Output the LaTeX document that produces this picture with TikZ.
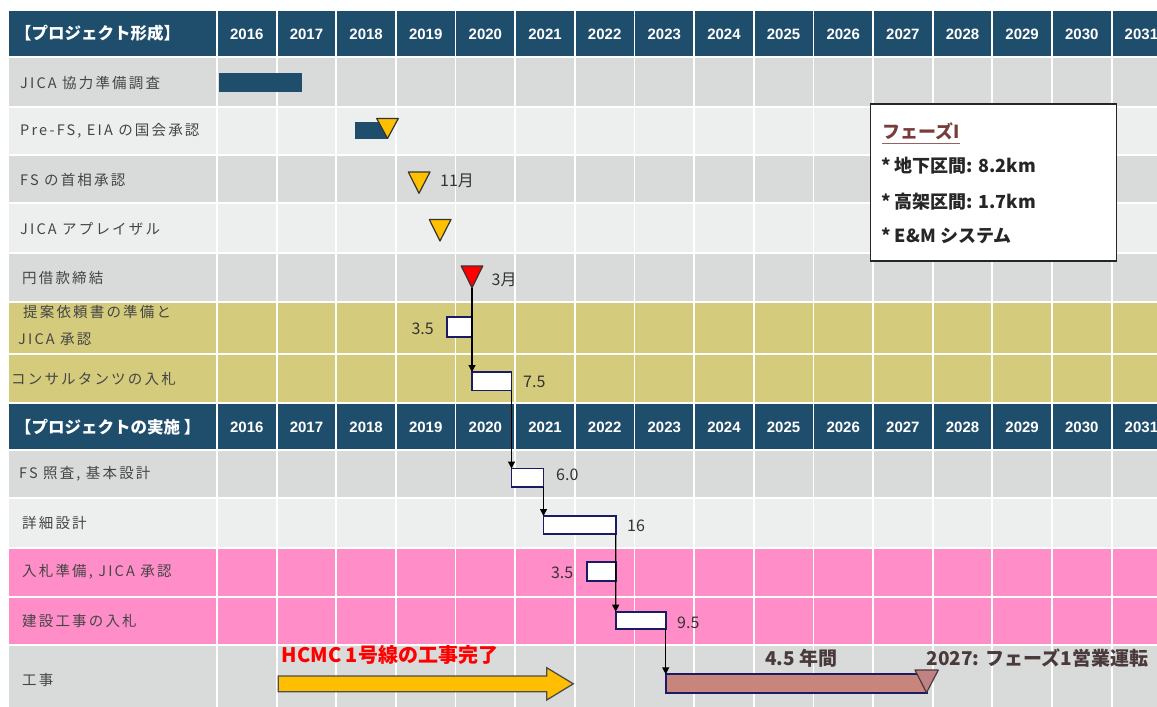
\documentclass[tikz,border=0pt]{standalone}
\usepackage{fontspec}
\setmainfont{Noto Sans CJK JP}
\newfontfamily\jpl{Noto Sans CJK JP}[LetterSpace=15]
\newfontfamily\arl{Liberation Sans}
\usetikzlibrary{arrows.meta}
\definecolor{hdr}{HTML}{1F4D6C}
\definecolor{rowg}{HTML}{D9DBDB}
\definecolor{rowl}{HTML}{EDEFEF}
\definecolor{olive}{HTML}{D5CB7D}
\definecolor{pinkr}{HTML}{FF8EC8}
\definecolor{navy}{HTML}{1A1A66}
\definecolor{tri}{HTML}{FFC000}
\definecolor{brownbar}{HTML}{C8857B}
\definecolor{endtri}{HTML}{C08282}
\definecolor{labtxt}{HTML}{454545}
\definecolor{darktxt}{HTML}{4A3A3A}
\definecolor{phase}{HTML}{7A3B3B}
\definecolor{arrowfill}{HTML}{FFBE00}
\begin{document}
\begin{tikzpicture}[x=1pt,y=-1pt,
  grid/.style={white,line width=1.8pt},
  hline/.style={white,line width=2.5pt},
  yr/.style={text=white,font=\arl\bfseries\fontsize{15}{17}\selectfont,inner sep=0pt},
  hdrtxt/.style={text=white,font=\bfseries\fontsize{16.5}{18}\selectfont,inner sep=0pt,anchor=west},
  lab/.style={text=labtxt,font=\jpl\fontsize{14.5}{16}\selectfont,inner sep=0pt,anchor=west},
  num/.style={text=black!80,font=\fontsize{16}{18}\selectfont,inner sep=0pt},
  darkbar/.style={fill=hdr,draw=none,inner sep=0pt,outer sep=0pt,anchor=north west},
  wbox/.style={fill=white,draw=navy,line width=1.8pt,inner sep=0pt,outer sep=0pt,anchor=north west},
  conn/.style={black,line width=1.2pt,-{Triangle[length=7pt,width=7pt]}},
  ytri/.style={fill=tri,draw=black!80,line width=1.2pt,line join=round},
  infotxt/.style={text=black!85,font=\bfseries\fontsize{18}{20}\selectfont,inner sep=0pt,anchor=west},
  bigtxt/.style={font=\bfseries\fontsize{19}{21}\selectfont,inner sep=0pt,anchor=west}
]
\useasboundingbox (0,0) rectangle (1157,707);
\fill[white] (0,0) rectangle (1157,707);
% row backgrounds
\foreach \t/\b/\c in {11/57/hdr,57/107/rowg,107/155/rowl,155/203/rowg,203/253/rowl,253/302/rowg,302/354/olive,354/403/olive,403/450/hdr,450/498/rowg,498/548/rowl,548/597/pinkr,597/645/pinkr,645/707/rowg}
  \fill[\c] (9,\t) rectangle (1157,\b);
% grid
\foreach \k in {0,...,15}
  \draw[grid] ({217+59.64*\k},11) -- ({217+59.64*\k},707);
\foreach \y in {57,107,155,203,253,302,354,403,450,498,548,597,645}
  \draw[hline] (9,\y) -- (1157,\y);
% headers
\node[hdrtxt] (h1) at (15,33.5) {【プロジェクト形成】};
\node[hdrtxt] (h2) at (15,427) {【プロジェクトの実施 】};
\foreach \k in {0,...,15}{
  \pgfmathsetmacro\xc{217+59.64*\k+29.82}
  \pgfmathtruncatemacro\yr{2016+\k}
  \node[yr] (ya\k) at (\xc,34) {\yr};
  \node[yr] (yb\k) at (\xc,427) {\yr};
}
% row labels
\node[lab] (l1) at (20,83) {JICA 協力準備調査};
\node[lab] (l2) at (20,131) {Pre-FS, EIA の国会承認};
\node[lab] (l3) at (20,180) {FS の首相承認};
\node[lab] (l4) at (20,229) {JICA アプレイザル};
\node[lab] (l5) at (22,278) {円借款締結};
\node[lab] (l6a) at (23,312) {提案依頼書の準備と};
\node[lab] (l6b) at (18,339) {JICA 承認};
\node[lab] (l7) at (11,379) {コンサルタンツの入札};
\node[lab] (l8) at (19,474) {FS 照査, 基本設計};
\node[lab] (l9) at (22,523) {詳細設計};
\node[lab] (l10) at (22,572) {入札準備, JICA 承認};
\node[lab] (l11) at (22,621) {建設工事の入札};
\node[lab] (l12) at (22,680) {工事};
% bars
\node[darkbar,minimum width=82.5pt,minimum height=18.5pt] (b1) at (219,73) {};
\node[darkbar,minimum width=32pt,minimum height=17.5pt] (b2) at (354.7,121.7) {};
% milestones
\filldraw[ytri] (376.7,118.5) -- (398.3,118.5) -- (387.5,138.5) -- cycle;
\filldraw[ytri] (408.3,172) -- (430,172) -- (419,193.3) -- cycle;
\filldraw[ytri] (429.3,219.5) -- (451,219.5) -- (440,241) -- cycle;
\filldraw[fill=red,draw=black!80,line width=1.2pt,line join=round] (461.2,266) -- (482.8,266) -- (472,287.7) -- cycle;
\coordinate (t5apex) at (472,287.7);
\node[num,anchor=west] (n3) at (440,181) {11月};
\node[num,anchor=west] (n5) at (491.5,279.5) {3月};
% boxes
\node[wbox,minimum width=25pt,minimum height=20pt] (bx6) at (446.7,316.7) {};
\node[wbox,minimum width=39.5pt,minimum height=18.5pt] (bx7) at (472,372) {};
\node[wbox,minimum width=32pt,minimum height=18.2pt] (bx8) at (511.5,468.5) {};
\node[wbox,minimum width=72.2pt,minimum height=18.3pt] (bx9) at (543.5,516) {};
\node[wbox,minimum width=29pt,minimum height=19pt] (bx10) at (586.7,561.7) {};
\node[wbox,minimum width=50pt,minimum height=17.6pt] (bx11) at (615.7,611.7) {};
\node[wbox,fill=brownbar,minimum width=261pt,minimum height=18.4pt] (bar12) at (665.7,674.3) {};
\filldraw[fill=endtri,draw=darktxt,line width=1.2pt,line join=round] (915,670) -- (938.3,670) -- (926.5,692.7) -- cycle;
\node[num,anchor=east] (n6) at (434,328.5) {3.5};
\node[num,anchor=west] (n7) at (523,382) {7.5};
\node[num,anchor=west] (n8) at (556,475) {6.0};
\node[num,anchor=west] (n9) at (627,526) {16};
\node[num,anchor=east] (n10) at (573.5,572.5) {3.5};
\node[num,anchor=west] (n11) at (677,622.5) {9.5};
% connectors
\draw[conn] (t5apex) -- (bx7.north west);
\draw[conn] (bx7.south east) -- (bx8.north west);
\draw[conn] (bx8.south east) -- (bx9.north west);
\draw[conn] (bx9.south east) -- (bx11.north west);
\draw[conn] (bx11.south east) -- (bar12.north west);
% yellow arrow
\filldraw[fill=arrowfill,draw=black!70,line width=1.3pt,line join=miter]
  (278.3,676) -- (546.7,676) -- (546.7,667.7) -- (573.3,683.8) -- (546.7,700) -- (546.7,691.7) -- (278.3,691.7) -- cycle;
\node[bigtxt,text=red,font=\bfseries\fontsize{20}{22}\selectfont] (hcmc) at (281.5,655) {HCMC 1号線の工事完了};
\node[bigtxt,text=darktxt] (dur) at (765,658) {4.5 年間};
\node[bigtxt,text=darktxt] (op) at (926.5,658) {2027: フェーズ1営業運転};
% info box
\node[draw=black!85,fill=white,line width=1.2pt,inner sep=0pt,outer sep=0pt,minimum width=246pt,minimum height=157pt,anchor=north west] (info) at (870.7,104) {};
\node[infotxt,text=phase] (p0) at (882,131.5) {フェーズI};
\draw[phase!80,line width=1.2pt] ([yshift=-3pt]p0.south west) -- ([yshift=-3pt]p0.south east);
\node[infotxt] (p1) at (881,166) {* 地下区間: 8.2km};
\node[infotxt] (p2) at (881,201.5) {* 高架区間: 1.7km};
\node[infotxt] (p3) at (881,236) {* E\&M システム};
\end{tikzpicture}
\end{document}
